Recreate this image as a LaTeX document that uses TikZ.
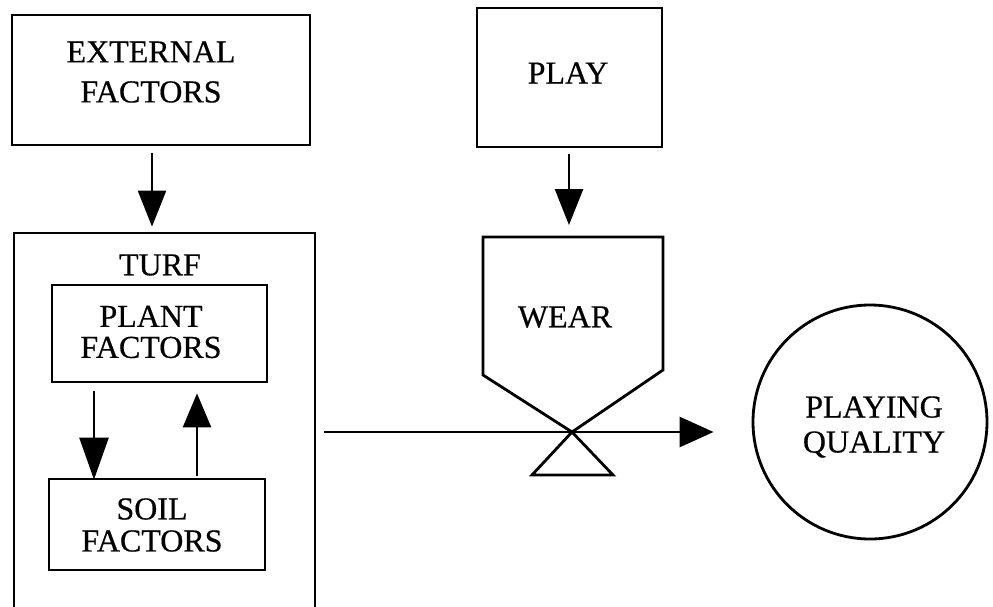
\documentclass[tikz,border=0pt]{standalone}
\usepackage{fontspec}
\setmainfont{Liberation Serif}[FakeBold=0.5]
\usetikzlibrary{arrows.meta,calc}
\begin{document}
\begin{tikzpicture}[x=1pt,y=-1pt,
  frame/.style={draw, line width=2.8pt, inner sep=0pt},
  lbl/.style={align=center, inner sep=0pt, font=\fontsize{32}{34}\selectfont},
  flow/.style={line width=2.6pt, -{Triangle[length=36pt,width=28pt]}},
]
\useasboundingbox (0,0) rectangle (993,606);

% boxes
\node[frame, minimum width=298pt, minimum height=130pt] (ext) at (161,80) {};
\node[lbl, font=\fontsize{32}{40}\selectfont] (extlbl) at (151,72) {EXTERNAL\\FACTORS};

\node[frame, minimum width=185pt, minimum height=139pt] (play) at (569.5,77.5) {};
\node[lbl] (playlbl) at (568,73) {PLAY};

% the turf frame runs past the lower edge
\node[frame, minimum width=301pt, minimum height=380pt] (turf) at (164.5,423) {};
\node[lbl] (turflbl) at (160,265) {TURF};

\node[frame, minimum width=215pt, minimum height=97pt] (plant) at (159.5,333.5) {};
\node[lbl, font=\fontsize{32}{31}\selectfont] (plantlbl) at (151,332) {PLANT\\FACTORS};

\node[frame, minimum width=216pt, minimum height=91pt] (soil) at (157,524.5) {};
\node[lbl, font=\fontsize{32}{32}\selectfont] (soillbl) at (152,525) {SOIL\\FACTORS};

% wear hopper with valve
\coordinate (wtl) at (483,237);
\coordinate (wtr) at (663,237);
\coordinate (wbr) at (663,370);
\coordinate (wbl) at (483,375);
\coordinate (cross) at (572,432);
\coordinate (vl) at (532,475);
\coordinate (vr) at (613,475);
\draw[line width=2.8pt] (wbl) -- (wtl) -- (wtr) -- (wbr) -- (cross) -- cycle;
\draw[line width=2.8pt] (cross) -- (vl) -- (vr) -- cycle;
\node[lbl] (wearlbl) at (565,317) {WEAR};

% playing quality
\node[draw, circle, line width=2.8pt, minimum size=234pt, inner sep=0pt] (quality) at (870,422) {};
\node[lbl, font=\fontsize{32}{35}\selectfont] (qualitylbl) at (874,427) {PLAYING\\QUALITY};

% connectors
\draw[flow] ($(ext.south)+(-9,7)$) -- ($(ext.south|-turf.north)+(-9,-5)$);
\draw[flow] ($(play.south)+(-0.5,6)$) -- ($(play.south|-wtl)+(-0.5,-12)$);
\draw[flow, -{Triangle[length=42pt,width=29pt]}] ($(plant.south)+(-65.5,8)$) -- ($(plant.south|-soil.north)+(-65.5,2)$);
\draw[flow, -{Triangle[length=34pt,width=28pt]}] ($(plant.south|-soil.north)+(37.5,-2)$) -- ($(plant.south)+(37.5,10)$);
\draw[flow, -{Triangle[length=34pt,width=30pt]}] ($(turf.east|-cross)+(8,0)$) -- ($(quality.west|-cross)+(-38,0)$);
\end{tikzpicture}
\end{document}
